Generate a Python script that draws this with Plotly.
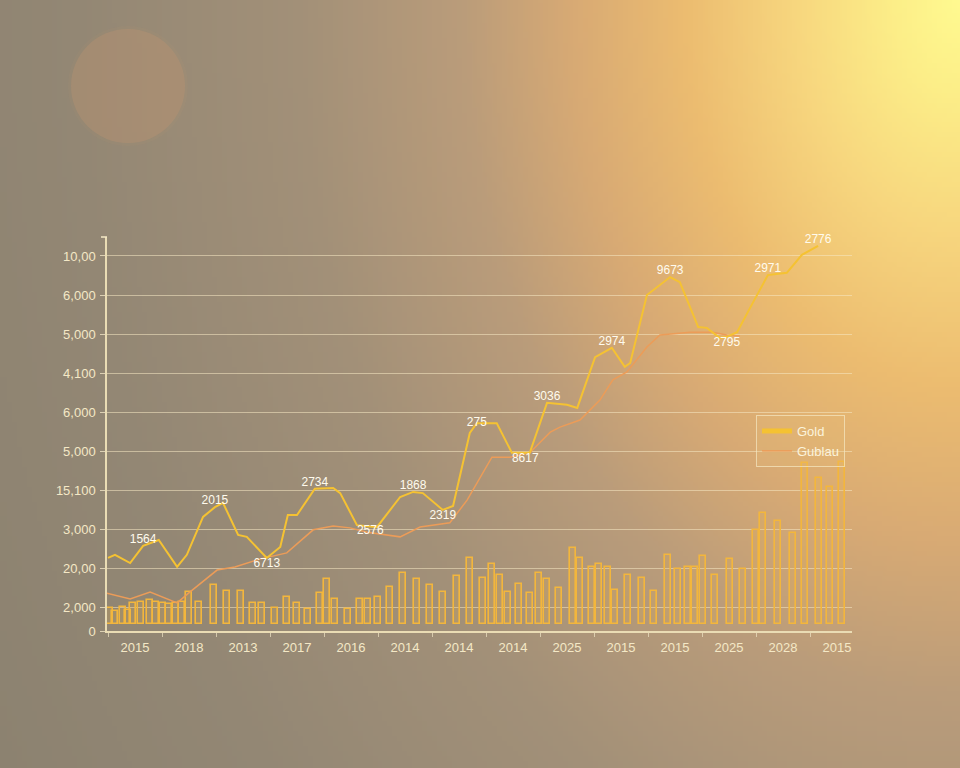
import base64, struct, zlib, math
import plotly.graph_objects as go

# ---------------- data ----------------
x_labels = ["2015", "2018", "2013", "2017", "2016", "2014", "2014", "2014",
            "2025", "2015", "2015", "2025", "2028", "2015"]
y_tick_values = [0, 600, 1600, 2600, 3600, 4600, 5600, 6600, 7600, 8600, 9600]
y_tick_labels = ["0", "2,000", "20,00", "3,000", "15,100", "5,000", "6,000",
                 "4,100", "5,000", "6,000", "10,00"]

gold_x = [-0.50, -0.37, -0.09, 0.15, 0.44, 0.78, 0.96, 1.26, 1.48, 1.63, 1.91, 2.07,
          2.44, 2.69, 2.83, 3.00, 3.33, 3.67, 3.80, 4.11, 4.48, 4.91, 5.15, 5.33,
          5.70, 5.89, 6.20, 6.33, 6.70, 6.98, 7.31, 7.63, 8.00, 8.19, 8.52, 8.83,
          9.07, 9.17, 9.48, 9.67, 9.91, 10.09, 10.43, 10.59, 10.83, 10.96, 11.15,
          11.44, 11.72, 12.07, 12.35, 12.65]
gold_y = [1870, 1950, 1740, 2180, 2330, 1640, 1950, 2920, 3170, 3280, 2460, 2410,
          1870, 2150, 2970, 2970, 3640, 3660, 3530, 2710, 2660, 3430, 3560, 3530,
          3100, 3200, 5070, 5320, 5320, 4560, 4560, 5840, 5790, 5710, 7010, 7250,
          6760, 6860, 8600, 8810, 9060, 8930, 7780, 7760, 7500, 7530, 7650,
          8400, 9110, 9170, 9630, 9860]

gublau_x = [-0.52, -0.09, 0.28, 0.65, 0.78, 1.02, 1.52, 1.85, 2.31, 2.81, 3.30, 3.67,
            3.98, 4.30, 4.91, 5.28, 5.83, 6.15, 6.39, 6.61, 6.94, 7.31, 7.69, 7.87,
            8.24, 8.61, 8.85, 9.11, 9.48, 9.72, 10.28, 10.70, 10.96, 11.20]
gublau_y = [970, 820, 1000, 790, 720, 1000, 1560, 1640, 1840, 2000, 2590, 2690,
            2640, 2530, 2410, 2660, 2770, 3350, 3940, 4450, 4450, 4560, 5090, 5220,
            5400, 5910, 6430, 6630, 7270, 7580, 7650, 7650, 7580, 7550]

bar_x = [-0.46, -0.37, -0.22, -0.13, -0.04, 0.11, 0.28, 0.39, 0.52, 0.63, 0.76, 0.87,
         1.00, 1.19, 1.46, 1.70, 1.96, 2.19, 2.35, 2.59, 2.81, 3.00, 3.20, 3.43,
         3.56, 3.70, 3.94, 4.17, 4.31, 4.50, 4.72, 4.96, 5.22, 5.46, 5.70, 5.96,
         6.20, 6.44, 6.61, 6.76, 6.91, 7.11, 7.31, 7.48, 7.63, 7.85, 8.11, 8.24,
         8.46, 8.59, 8.76, 8.89, 9.13, 9.39, 9.61, 9.87, 10.06, 10.24, 10.37, 10.52,
         10.74, 11.02, 11.26, 11.50, 11.63, 11.91, 12.19, 12.41, 12.67, 12.87, 13.09]
bar_y = [590, 510, 610, 540, 720, 740, 790, 740, 720, 690, 720, 740,
         1000, 740, 1180, 1020, 1020, 720, 720, 590, 870, 720, 560, 970,
         1330, 820, 560, 820, 820, 870, 1130, 1480, 1330, 1180, 1000, 1410,
         1870, 1360, 1720, 1430, 1000, 1200, 970, 1480, 1330, 1100, 2120, 1870,
         1640, 1720, 1640, 1050, 1430, 1360, 1020, 1950, 1590, 1640, 1640, 1920,
         1430, 1840, 1590, 2590, 3020, 2820, 2510, 4300, 3920, 3690, 4330]

# labels attached to points of the gold series: index -> (text, side)
point_labels = {
    3: ("1564", "top center"), 8: ("2015", "top center"), 12: ("6713", "bottom center"),
    16: ("2734", "top center"), 19: ("2576", "bottom right"), 22: ("1868", "top center"),
    24: ("2319", "bottom center"), 27: ("275", "middle center"), 29: ("8617", "bottom right"),
    31: ("3036", "top center"), 35: ("2974", "top center"), 40: ("9673", "top center"),
    45: ("2795", "bottom center"), 48: ("2971", "top center"), 51: ("2776", "top center"),
}

# ---------------- background image (gradient) ----------------
W, H = 192, 154
stops = [(0.0, (255, 250, 144)), (0.06, (252, 238, 136)), (0.15, (247, 214, 126)),
         (0.25, (236, 188, 112)), (0.35, (216, 170, 116)), (0.45, (186, 156, 122)),
         (0.6, (162, 144, 120)), (0.8, (147, 135, 116)), (1.0, (140, 130, 112))]


def cs(t):
    t = max(0.0, min(1.0, t))
    for (a, ca), (b, cb) in zip(stops[:-1], stops[1:]):
        if t <= b:
            f = (t - a) / (b - a)
            return tuple(int(round(ca[i] + (cb[i] - ca[i]) * f)) for i in range(3))
    return stops[-1][1]


rows = []
dmax = math.hypot(960, 768 / 1.4)
for j in range(H):
    py = (j + 0.5) / H * 768
    row = bytearray()
    for i in range(W):
        px = (i + 0.5) / W * 960
        d = math.hypot(960 - px, py / 1.4) / dmax
        row.extend(cs(d))
    rows.append(row)


def make_png(w, h, rows):
    raw = b"".join(b"\x00" + bytes(r) for r in rows)

    def chunk(tag, data):
        c = struct.pack(">I", len(data)) + tag + data
        return c + struct.pack(">I", zlib.crc32(tag + data) & 0xffffffff)
    return (b"\x89PNG\r\n\x1a\n" + chunk(b"IHDR", struct.pack(">IIBBBBB", w, h, 8, 2, 0, 0, 0))
            + chunk(b"IDAT", zlib.compress(raw, 9)) + chunk(b"IEND", b""))


bg_uri = "data:image/png;base64," + base64.b64encode(make_png(W, H, rows)).decode()

# ---------------- figure ----------------
FONT = "Liberation Sans, Arial, sans-serif"
CREAM = "#f4e8c6"
BAR_BASE = 180
L, R, T, B = 107, 108, 237, 137
PW, PH = 960 - L - R, 768 - T - B

fig = go.Figure()

fig.add_trace(go.Bar(
    x=bar_x, y=[v - BAR_BASE for v in bar_y], base=BAR_BASE, width=0.11,
    marker=dict(color="rgba(240,185,70,0.18)", line=dict(color="#f3b63c", width=1.6)),
    showlegend=False, hoverinfo="skip"))

fig.add_trace(go.Scatter(
    x=gublau_x, y=gublau_y, mode="lines", name="Gublau",
    line=dict(color="#ec9c58", width=1.5), showlegend=False))

fig.add_trace(go.Scatter(
    x=gold_x, y=gold_y, mode="lines", name="Gold",
    line=dict(color="#f5c232", width=2), showlegend=False))

idx = sorted(point_labels)
fig.add_trace(go.Scatter(
    x=[gold_x[i] for i in idx], y=[gold_y[i] for i in idx], mode="text",
    text=[point_labels[i][0] for i in idx],
    textposition=[point_labels[i][1] for i in idx],
    textfont=dict(family=FONT, size=12, color="#fffbee"),
    cliponaxis=False, showlegend=False, hoverinfo="skip"))

# legend entries
fig.add_trace(go.Scatter(x=[None], y=[None], mode="lines", name="Gold",
                         line=dict(color="#f5c232", width=5)))
fig.add_trace(go.Scatter(x=[None], y=[None], mode="lines", name="Gublau",
                         line=dict(color="#ec9c58", width=1.5)))


def px_to_paper_x(p):
    return (p - L) / PW


def py_to_paper_y(p):
    return (768 - B - p) / PH


fig.update_layout(
    width=960, height=768,
    margin=dict(l=L, r=R, t=T, b=B, autoexpand=False),
    paper_bgcolor="#9a8c78", plot_bgcolor="rgba(0,0,0,0)",
    font=dict(family=FONT, color=CREAM, size=13),
    bargap=0,
    images=[dict(source=bg_uri, xref="paper", yref="paper",
                 x=px_to_paper_x(0), y=py_to_paper_y(0),
                 sizex=960 / PW, sizey=768 / PH, sizing="stretch",
                 xanchor="left", yanchor="top", layer="below")],
    shapes=[
        dict(type="circle", xref="paper", yref="paper", layer="below",
             x0=px_to_paper_x(68), x1=px_to_paper_x(188),
             y0=py_to_paper_y(146), y1=py_to_paper_y(26),
             fillcolor="rgba(200,150,118,0.07)", line=dict(width=0)),
        dict(type="circle", xref="paper", yref="paper", layer="below",
             x0=px_to_paper_x(71), x1=px_to_paper_x(185),
             y0=py_to_paper_y(143), y1=py_to_paper_y(29),
             fillcolor="rgba(196,148,112,0.30)", line=dict(width=0)),
        dict(type="line", xref="paper", yref="paper",
             x0=px_to_paper_x(101), x1=px_to_paper_x(107),
             y0=1, y1=1, line=dict(color=CREAM, width=1.5)),
    ],
    xaxis=dict(range=[-0.5185, 13.2778], tickmode="array",
               tickvals=list(range(len(x_labels))), ticktext=x_labels,
               ticks="", showgrid=False, zeroline=False,
               showline=True, linecolor="#eadcb4", linewidth=1.5,
               tickfont=dict(size=13, color=CREAM), ticklabelstandoff=4,
               minor=dict(tick0=0.5, dtick=1, ticks="outside", ticklen=4,
                          tickcolor="rgba(240,228,196,0.7)", showgrid=False)),
    yaxis=dict(range=[0, 10086], tickmode="array",
               tickvals=y_tick_values, ticktext=y_tick_labels,
               ticks="outside", ticklen=5, tickcolor="rgba(240,228,196,0.8)",
               showgrid=True, gridcolor="rgba(245,232,195,0.55)", gridwidth=1,
               zeroline=False, showline=True, linecolor="#eadcb4", linewidth=1.5,
               tickfont=dict(size=13, color=CREAM), ticklabelstandoff=2),
    legend=dict(x=px_to_paper_x(756), y=py_to_paper_y(415), xanchor="left", yanchor="top",
                bgcolor="rgba(235,195,120,0.18)", bordercolor="rgba(245,232,195,0.7)",
                borderwidth=1, font=dict(size=13, color="#fbf3dc"),
                itemwidth=30, tracegroupgap=0),
)

fig.write_html("out.html", config={"displayModeBar": False},
               post_script="document.body.style.margin='0';")
